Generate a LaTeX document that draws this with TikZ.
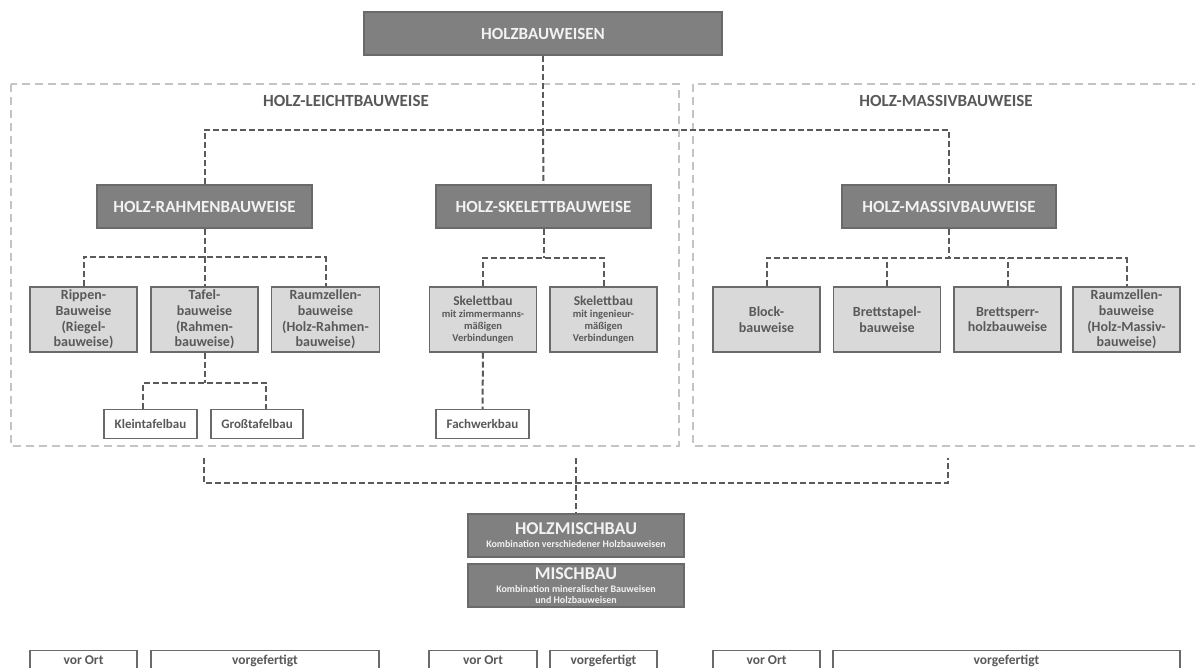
\documentclass[tikz,border=0pt]{standalone}
\usepackage{fontspec}
\setmainfont{Carlito}
\definecolor{darkfill}{HTML}{808080}
\definecolor{boxedge}{HTML}{6A6A6A}
\definecolor{darktext}{HTML}{F2F2F2}
\definecolor{lightfill}{HTML}{D9D9D9}
\definecolor{textgray}{HTML}{595959}
\definecolor{conngray}{HTML}{5A5A5A}
\definecolor{framegray}{HTML}{C4C4C4}
\newcommand\bigln{\fontsize{13.5}{14}\selectfont}
\newcommand\subln{\fontsize{10}{11}\selectfont}
\begin{document}
\begin{tikzpicture}[x=1pt,y=-1pt,
 dbox/.style={draw=boxedge, fill=darkfill, line width=1.3pt, text=darktext, font=\bfseries\fontsize{17}{20}\selectfont, inner sep=0pt, minimum height=43pt, align=center},
 lbox/.style={draw=boxedge, fill=lightfill, line width=1.3pt, text=textgray, font=\bfseries\fontsize{14}{15.7}\selectfont, inner sep=0pt, minimum height=65pt, minimum width=107pt, align=center},
 wbox/.style={draw=boxedge, fill=white, line width=1.3pt, text=textgray, font=\bfseries\fontsize{13}{15}\selectfont, inner sep=0pt, minimum height=29pt, align=center},
 conn/.style={draw=conngray, line width=2pt, dash pattern=on 6pt off 3pt},
 framebox/.style={draw=framegray, line width=1.2pt, dash pattern=on 8pt off 5pt},
 flabel/.style={text=textgray, font=\bfseries\fontsize{17}{20}\selectfont, inner sep=0pt},
 sklbox/.style={lbox, font=\bfseries\fontsize{10.5}{11.8}\selectfont},
 btext/.style={text=textgray, font=\bfseries\fontsize{13.5}{15}\selectfont, anchor=base, inner sep=0pt}
]
\clip (0,0) rectangle (1195,668);
\fill[white] (0,0) rectangle (1195,668);

% frames
\draw[framebox] (11,84) rectangle (679,446);
\draw[framebox] (693,84) rectangle (1215,446);
\node[flabel] (lleicht) at (346,101) {HOLZ-LEICHTBAUWEISE};
\node[flabel] (lmassiv) at (946,101) {HOLZ-MASSIVBAUWEISE};

% top
\node[dbox, minimum width=358pt] (top) at (543,33.5) {HOLZBAUWEISEN};

% main categories
\node[dbox, minimum width=215pt] (ra) at (204.5,206.5) {HOLZ-RAHMENBAUWEISE};
\node[dbox, minimum width=215pt] (sk) at (543.5,206.5) {HOLZ-SKELETTBAUWEISE};
\node[dbox, minimum width=214pt] (ma) at (949,206.5) {HOLZ-MASSIVBAUWEISE};

\coordinate (bus1) at (543,130);
\draw[conn] (top.south) -- (bus1);
\draw[conn] (ra.north) -- (ra.north |- bus1) -- (ma.north |- bus1) -- (ma.north);
\draw[conn] (bus1) -- (sk.north);

% Rahmen children
\node[lbox] (rip) at (83.5,319.5) {Rippen-\\Bauweise\\(Riegel-\\bauweise)};
\node[lbox] (taf) at (204.5,319.5) {Tafel-\\bauweise\\(Rahmen-\\bauweise)};
\node[lbox, minimum width=108pt] (rzr) at (325.5,319.5) {Raumzellen-\\bauweise\\(Holz-Rahmen-\\bauweise)};
\coordinate (bus2) at (204.5,257);
\draw[conn] (ra.south) -- (bus2);
\draw[conn] (rip.north) -- (rip.north |- bus2) -- (rzr.north |- bus2) -- (rzr.north);
\draw[conn] (bus2) -- (taf.north);

% Skelett children
\node[sklbox] (skz) at (483,319.5) {\bigln Skelettbau\\[1pt]mit zimmermanns-\\mäßigen\\Verbindungen};
\node[sklbox] (ski) at (603.5,319.5) {\bigln Skelettbau\\[1pt]mit ingenieur-\\mäßigen\\Verbindungen};
\coordinate (bus3) at (543.5,258);
\draw[conn] (sk.south) -- (bus3);
\draw[conn] (skz.north) -- (skz.north |- bus3) -- (ski.north |- bus3) -- (ski.north);

% Massiv children
\node[lbox] (blo) at (766.5,319.5) {Block-\\bauweise};
\node[lbox] (bst) at (887,319.5) {Brettstapel-\\bauweise};
\node[lbox] (bsp) at (1007.5,319.5) {Brettsperr-\\holzbauweise};
\node[lbox] (rzm) at (1126.5,319.5) {Raumzellen-\\bauweise\\(Holz-Massiv-\\bauweise)};
\coordinate (bus4) at (949,258);
\draw[conn] (ma.south) -- (bus4);
\draw[conn] (blo.north) -- (blo.north |- bus4) -- (rzm.north |- bus4) -- (rzm.north);
\draw[conn] (bst.north) -- (bst.north |- bus4);
\draw[conn] (bsp.north) -- (bsp.north |- bus4);

% Tafel children
\node[wbox, minimum width=93pt] (klt) at (150.5,424) {Kleintafelbau};
\node[wbox, minimum width=92pt] (grt) at (257,424) {Großtafelbau};
\coordinate (bus5) at (204.5,383);
\coordinate (kla) at (143,409.5);
\coordinate (gra) at (266,409.5);
\draw[conn] (taf.south) -- (bus5);
\draw[conn] (kla) -- (kla |- bus5) -- (gra |- bus5) -- (gra);

% Fachwerk
\node[wbox, minimum width=93pt] (fwb) at (482.5,424) {Fachwerkbau};
\draw[conn] (skz.south) -- (fwb.north);

% merge to Holzmischbau
\node[dbox, minimum width=216pt, font=\bfseries\subln] (hmb) at (576,535.5) {\fontsize{18}{18}\selectfont HOLZMISCHBAU\\[2pt]Kombination verschiedener Holzbauweisen};
\node[dbox, minimum width=216pt, font=\bfseries\subln] (mb) at (576,585.5) {\fontsize{18}{18}\selectfont MISCHBAU\\[2pt]Kombination mineralischer Bauweisen\\und Holzbauweisen};
\coordinate (mL) at (204,458);
\coordinate (mR) at (948,458);
\coordinate (mC) at (576,458);
\coordinate (bus6) at (576,483);
\draw[conn] (mL) -- (mL |- bus6) -- (mR |- bus6) -- (mR);
\draw[conn] (mC) -- (hmb.north);

% bottom boxes
\node[wbox, minimum width=107pt, minimum height=30pt, anchor=north] (vo1) at (83.5,650) {};
\node[wbox, minimum width=228pt, minimum height=30pt, anchor=north] (vg1) at (265,650) {};
\node[wbox, minimum width=108pt, minimum height=30pt, anchor=north] (vo2) at (483,650) {};
\node[wbox, minimum width=107pt, minimum height=30pt, anchor=north] (vg2) at (603.5,650) {};
\node[wbox, minimum width=107pt, minimum height=30pt, anchor=north] (vo3) at (766.5,650) {};
\node[wbox, minimum width=347pt, minimum height=30pt, anchor=north] (vg3) at (1006.5,650) {};
\node[btext] (tvo1) at (83.5,664) {vor Ort};
\node[btext] (tvg1) at (265,664) {vorgefertigt};
\node[btext] (tvo2) at (483,664) {vor Ort};
\node[btext] (tvg2) at (603.5,664) {vorgefertigt};
\node[btext] (tvo3) at (766.5,664) {vor Ort};
\node[btext] (tvg3) at (1006.5,664) {vorgefertigt};
\end{tikzpicture}
\end{document}
